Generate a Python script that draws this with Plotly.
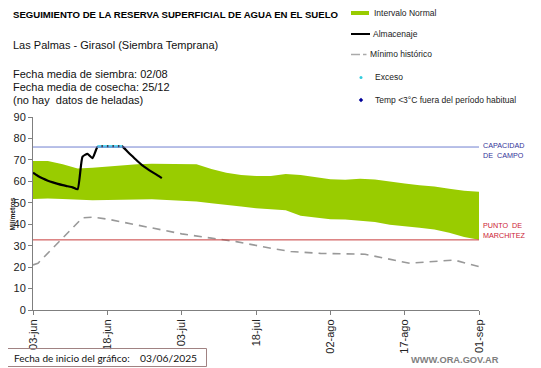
import plotly.graph_objects as go
import pandas as pd

# ---------------- data ----------------
start = pd.Timestamp("2025-06-03")

band_days = [0, 3, 6, 9, 12, 15, 18, 21, 24, 27, 30, 33, 36, 39, 42, 45, 48, 51, 54, 57,
             60, 63, 66, 69, 72, 75, 78, 81, 84, 87, 90]
band_upper = [69.5, 69.5, 68.0, 66.0, 66.3, 66.9, 67.5, 68.0, 68.2, 68.2, 68.3, 68.0, 65.8,
              64.0, 63.0, 62.5, 62.5, 63.4, 63.0, 62.0, 61.0, 60.7, 61.2, 60.8, 59.8, 59.0,
              58.2, 57.6, 56.5, 55.6, 55.2]
band_lower = [51.8, 52.0, 51.8, 51.5, 51.2, 51.3, 51.5, 51.8, 51.7, 51.3, 51.0, 50.6, 49.8,
              49.2, 48.3, 47.5, 47.0, 46.5, 44.0, 43.0, 42.3, 42.2, 41.5, 41.0, 39.8, 39.2,
              38.3, 37.5, 36.0, 34.0, 32.8]

alm_days = list(range(0, 27))
alm_values = [64.0, 62.5, 61.3, 60.3, 59.5, 58.8, 58.2, 57.7, 57.2, 56.3, 71.5, 72.8, 70.8,
              76.0, 76.3, 76.3, 76.3, 76.3, 76.3, 74.0, 71.8, 69.6, 67.6, 65.9, 64.4, 63.0, 61.5]

exc_days = [13, 14, 15, 16, 17, 18]
exc_values = [76.3, 76.3, 76.3, 76.3, 76.3, 76.3]

min_days = [0, 1, 10, 12, 15, 19, 24, 30, 36, 41, 48, 52, 58, 67, 76, 85, 90]
min_values = [21.0, 21.8, 43.0, 43.3, 42.4, 40.5, 38.0, 35.5, 33.5, 31.9, 28.8, 27.3, 26.4,
              26.0, 21.8, 23.3, 20.2]

capacidad_campo = 76.0
punto_marchitez = 32.7

tick_days = [0, 15, 30, 45, 60, 75, 90]
tick_labels = ["03-jun", "18-jun", "03-jul", "18-jul", "02-ago", "17-ago", "01-sep"]


def d(days):
    return [start + pd.Timedelta(days=int(k)) for k in days]


# ---------------- geometry (page pixels; the page adds an 8px body margin) ----------------
OFF = 8
PAGE_W, PAGE_H = 541, 368
W, H = PAGE_W - OFF, PAGE_H - OFF
L, R, T, B = 33, 479, 117, 310          # plot area in page pixels


def px(x):
    return (x - L) / (R - L)


def py(y):
    return (B - y) / (B - T)


FONT = "Liberation Sans, Arial, sans-serif"

fig = go.Figure()

fig.add_trace(go.Scatter(x=d(band_days), y=band_lower, mode="lines", line=dict(width=0, color="#99CC00"),
                         showlegend=False, hoverinfo="skip"))
fig.add_trace(go.Scatter(x=d(band_days), y=band_upper, mode="lines", line=dict(width=0, color="#99CC00"),
                         fill="tonexty", fillcolor="#99CC00", name="Intervalo Normal", showlegend=False))

fig.add_trace(go.Scatter(x=d(min_days), y=min_values, mode="lines",
                         line=dict(color="#999999", width=1.6, dash="8px,6px"),
                         name="Mínimo histórico", showlegend=False))

fig.add_trace(go.Scatter(x=d(alm_days), y=alm_values, mode="lines",
                         line=dict(color="black", width=2.2, shape="spline", smoothing=0.5),
                         name="Almacenaje", showlegend=False))

fig.add_trace(go.Scatter(x=d(exc_days), y=exc_values, mode="lines",
                         line=dict(color="#55DDF5", width=3, dash="4px,1.5px"),
                         name="Exceso", showlegend=False))

shapes = [
    dict(type="line", xref="paper", yref="y", x0=0, x1=1, y0=capacidad_campo, y1=capacidad_campo,
         line=dict(color="#7080D0", width=1)),
    dict(type="line", xref="paper", yref="y", x0=0, x1=1, y0=punto_marchitez, y1=punto_marchitez,
         line=dict(color="#C83C3C", width=1)),
    # legend symbols
    dict(type="rect", xref="paper", yref="paper", x0=px(351), x1=px(369), y0=py(15), y1=py(11),
         fillcolor="#99CC00", line=dict(width=0)),
    dict(type="line", xref="paper", yref="paper", x0=px(351), x1=px(370), y0=py(34), y1=py(34),
         line=dict(color="black", width=2)),
    dict(type="line", xref="paper", yref="paper", x0=px(351), x1=px(360), y0=py(54.5), y1=py(54.5),
         line=dict(color="#AAAAAA", width=1.5)),
    dict(type="line", xref="paper", yref="paper", x0=px(363), x1=px(366.5), y0=py(54.5), y1=py(54.5),
         line=dict(color="#AAAAAA", width=1.5)),
    dict(type="circle", xref="paper", yref="paper", x0=px(359.5), x1=px(362.5), y0=py(79), y1=py(76),
         fillcolor="#33CCDD", line=dict(width=0)),
    dict(type="path", xref="paper", yref="paper",
         path="M {0},{1} L {2},{3} L {0},{4} L {5},{3} Z".format(px(361), py(97.8), px(363.2), py(100), py(102.2), px(358.8)),
         fillcolor="#000099", line=dict(width=0)),
    # bottom box
    dict(type="rect", xref="paper", yref="paper", x0=px(6), x1=px(206.5), y0=py(366.5), y1=py(348.5),
         line=dict(color="#A08282", width=1), fillcolor="rgba(0,0,0,0)"),
]

ann = []


def text(x, y, s, size, color="black", xanchor="left", bold=False, family=FONT, angle=0):
    if bold:
        s = "<b>" + s + "</b>"
    ann.append(dict(x=px(x), y=py(y), xref="paper", yref="paper", text=s, showarrow=False,
                    xanchor=xanchor, yanchor="middle", align="left", textangle=angle,
                    font=dict(size=size, color=color, family=family)))


text(11, 15, "SEGUIMIENTO DE LA RESERVA SUPERFICIAL DE AGUA EN EL SUELO", 9.6, bold=True)
text(11, 45, "Las Palmas - Girasol (Siembra Temprana)", 11, color="#111111")
text(11, 73.5, "Fecha media de siembra: 02/08", 11, color="#111111")
text(11, 87, "Fecha media de cosecha: 25/12", 11, color="#111111")
text(11, 100.5, "(no hay  datos de heladas)", 11, color="#111111")

text(371.5, 13, "Intervalo Normal", 8.5, color="#222222")
text(370.5, 34, "Almacenaje", 8.5, color="#222222")
text(368, 54.5, "Mínimo histórico", 8.5, color="#222222")
text(373, 77.5, "Exceso", 8.5, color="#222222")
text(373, 100, "Temp <3°C fuera del período habitual", 8.5, color="#222222")

text(481, 145.5, "CAPACIDAD", 7.2, color="#333399")
text(481, 155.5, "DE  CAMPO", 7.2, color="#333399")
text(481, 225.5, "PUNTO  DE", 7.2, color="#CC2233")
text(481, 235, "MARCHITEZ", 7.2, color="#CC2233")

text(11.5, 214, "Milímetros", 6.6, color="#222222", xanchor="center", bold=True, angle=-90)

text(12, 357.5, "Fecha de inicio del gráfico:", 10, color="#111111", family="Lato, Carlito, sans-serif")
text(138, 357.5, "03/06/2025", 10.3, color="#111111", family="Lato, Carlito, sans-serif")
text(500.5, 360, "WWW.ORA.GOV.AR", 9.3, color="#7F7F7F", xanchor="right", bold=True)

fig.update_layout(
    width=W, height=H,
    margin=dict(l=L - OFF, r=PAGE_W - R, t=T - OFF, b=PAGE_H - B, pad=0),
    autosize=False,
    paper_bgcolor="white", plot_bgcolor="white",
    showlegend=False,
    shapes=shapes,
    annotations=ann,
    font=dict(family=FONT, color="#222222"),
)

fig.update_xaxes(
    type="date", automargin=False,
    range=[start, start + pd.Timedelta(days=90)],
    tickvals=d(tick_days), ticktext=tick_labels,
    tickangle=-90, tickfont=dict(size=11, color="#222222"),
    showgrid=False, zeroline=False,
    showline=True, linecolor="#7F7F7F", linewidth=1,
    ticks="outside", ticklen=4, tickcolor="#7F7F7F",
)

fig.update_yaxes(
    range=[0, 90], dtick=10, tick0=0, automargin=False,
    tickfont=dict(size=11, color="#222222"),
    showgrid=False, zeroline=False,
    showline=True, linecolor="#7F7F7F", linewidth=1,
    ticks="outside", ticklen=4, tickcolor="#7F7F7F",
)

fig.write_html("out.html")
